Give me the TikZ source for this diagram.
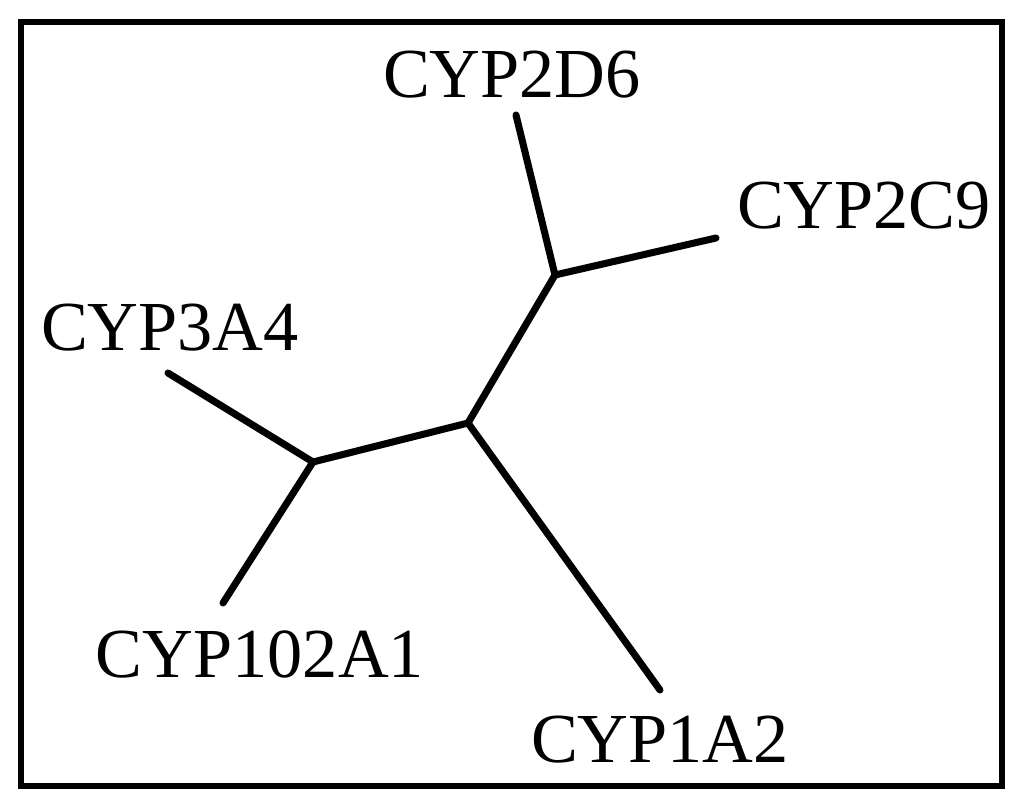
\documentclass[tikz,border=0pt]{standalone}
\usepackage{fontspec}
\setmainfont{Liberation Serif}
\tikzset{branch/.style={line width=2pt, line cap=round, line join=round},
  leaflabel/.style={anchor=base, inner sep=0pt, font=\fontsize{20}{24}\selectfont}}

\begin{document}
\begin{tikzpicture}
  \useasboundingbox (0,0) rectangle (10.24,8.07);
  \draw[line width=1.6pt] (0.21,0.21) rectangle (10.02,7.85);
  % inner nodes of the tree
  \coordinate (ia) at (3.13,3.45);
  \coordinate (ib) at (4.68,3.84);
  \coordinate (ic) at (5.55,5.32);
  % leaf ends
  \coordinate (l3a4) at (1.68,4.34);
  \coordinate (l102a1) at (2.23,2.04);
  \coordinate (l1a2) at (6.60,1.17);
  \coordinate (l2d6) at (5.16,6.92);
  \coordinate (l2c9) at (7.16,5.69);
  \draw[branch] (l3a4) -- (ia) -- (l102a1);
  \draw[branch] (ia) -- (ib) -- (l1a2);
  \draw[branch] (ib) -- (ic) -- (l2d6);
  \draw[branch] (ic) -- (l2c9);
  % labels
  \node[leaflabel] (n2d6) at (5.12,7.10) {CYP2D6};
  \node[leaflabel] (n2c9) at (8.64,5.79) {CYP2C9};
  \node[leaflabel] (n3a4) at (1.70,4.57) {CYP3A4};
  \node[leaflabel] (n102a1) at (2.60,1.30) {CYP102A1};
  \node[leaflabel] (n1a2) at (6.60,0.45) {CYP1A2};
\end{tikzpicture}
\end{document}
